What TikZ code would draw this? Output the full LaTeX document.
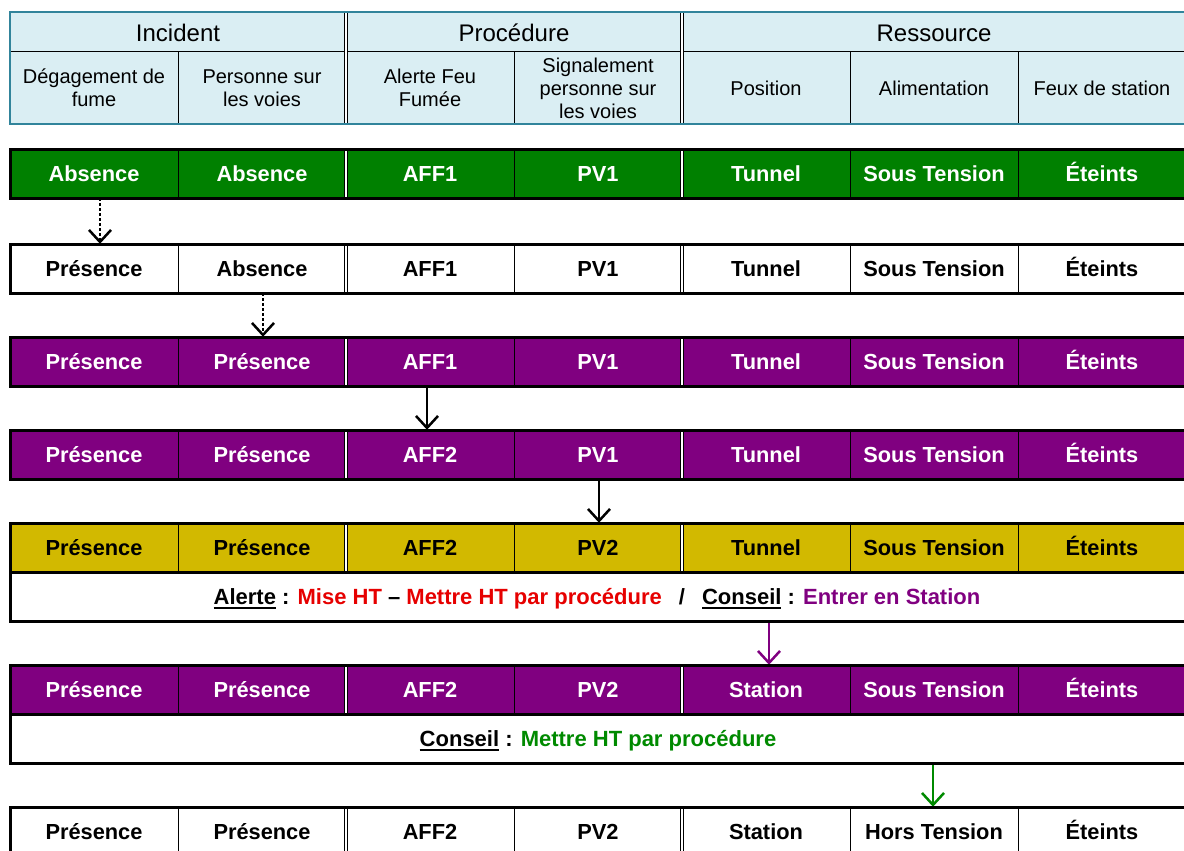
\documentclass[tikz,border=0pt]{standalone}
\usepackage{fontspec}
\setmainfont{Liberation Sans}
\usetikzlibrary{arrows.meta,calc}
\definecolor{hdrfill}{HTML}{DAEEF3}
\definecolor{hdrline}{HTML}{31849B}
\definecolor{rowgreen}{HTML}{008000}
\definecolor{rowpurple}{HTML}{800080}
\definecolor{rowyellow}{HTML}{D2B900}
\definecolor{txtred}{HTML}{E60000}
\definecolor{txtgreen}{HTML}{008A00}
\definecolor{txtpurple}{HTML}{800080}
\newsavebox\ulbox
\newcommand{\myul}[1]{\sbox\ulbox{#1}\rlap{\rule[-4.8pt]{\wd\ulbox}{2.2pt}}\usebox\ulbox}
\tikzset{
  cell/.style={minimum width=168pt, minimum height=49pt, inner sep=0pt, text height=15.7pt, text depth=0pt,
    font=\fontsize{21.8}{25}\selectfont\bfseries},
  msg/.style={minimum width=1176pt, minimum height=49pt, inner sep=0pt, text height=15.7pt, text depth=0pt,
    font=\fontsize{22}{25}\selectfont\bfseries},
  hcell/.style={inner sep=0pt, align=center, font=\fontsize{20}{23}\selectfont},
  gcell/.style={inner sep=0pt, text height=17.5pt, text depth=0pt, font=\fontsize{24}{27}\selectfont},
  rowframe/.style={line width=3pt},
  colline/.style={line width=1pt},
  dbl/.style={double, double distance=1.5pt, line width=0.9pt},
  flow/.style={line width=2.5pt, -{Straight Barb[length=12pt,width=22pt]}},
  dots/.style={dash pattern=on 2.5pt off 2.5pt},
}
% #1 prefix, #2 top, #3 fill, #4 text colour, #5 texts
\newcommand{\staterow}[5]{%
  \fill[#3] (10,#2) rectangle (1190,#2+49);
  \foreach \t [count=\i] in {#5}
    \node[cell,text=#4] (#1\i) at ({10+168*(\i-0.5)},#2+24.5) {\t};
  \foreach \x in {178,514,850,1018} \draw[colline] (\x,#2) -- (\x,#2+49);
  \foreach \x in {346,682} \draw[dbl] (\x,#2) -- (\x,#2+49);
}
\begin{document}
\begin{tikzpicture}[x=1pt,y=-1pt]
\useasboundingbox (0,0) rectangle (1184,851);
\clip (0,0) rectangle (1184,851);
% header
\fill[hdrfill] (10,12) rectangle (1190,124);
\draw[colline] (10,52) -- (1190,52);
\foreach \x in {178,514,850,1018} \draw[colline] (\x,52) -- (\x,124);
\foreach \x in {346,682} \draw[dbl] (\x,12) -- (\x,124);
\node[gcell] (g1) at (178,33) {Incident};
\node[gcell] (g2) at (514,33) {Procédure};
\node[gcell] (g3) at (934,33) {Ressource};
\node[hcell] (h1) at (94,88) {Dégagement de\\fume};
\node[hcell] (h2) at (262,88) {Personne sur\\les voies};
\node[hcell] (h3) at (430,88) {Alerte Feu\\Fumée};
\node[hcell] (h4) at (598,88) {Signalement\\personne sur\\les voies};
\node[hcell] (h5) at (766,88) {Position};
\node[hcell] (h6) at (934,88) {Alimentation};
\node[hcell] (h7) at (1102,88) {Feux de station};
\draw[hdrline,line width=2.8pt] (10,12) rectangle (1190,124);
% state rows
\staterow{a}{149}{rowgreen}{white}{Absence,Absence,AFF1,PV1,Tunnel,Sous Tension,Éteints}
\staterow{b}{244}{white}{black}{Présence,Absence,AFF1,PV1,Tunnel,Sous Tension,Éteints}
\staterow{c}{337}{rowpurple}{white}{Présence,Présence,AFF1,PV1,Tunnel,Sous Tension,Éteints}
\staterow{d}{430}{rowpurple}{white}{Présence,Présence,AFF2,PV1,Tunnel,Sous Tension,Éteints}
\staterow{e}{523}{rowyellow}{black}{Présence,Présence,AFF2,PV2,Tunnel,Sous Tension,Éteints}
\node[msg] (m5) at (597,596.5) {\myul{Alerte} : {\color{txtred}Mise HT} -- {\color{txtred}Mettre HT par procédure}\hspace{17pt}/\hspace{17pt}\myul{Conseil} : {\color{txtpurple}Entrer en Station}};
\staterow{f}{665}{rowpurple}{white}{Présence,Présence,AFF2,PV2,Station,Sous Tension,Éteints}
\node[msg] (m6) at (598,738.5) {\myul{Conseil} : {\color{txtgreen}Mettre HT par procédure}};
\staterow{g}{807}{white}{black}{Présence,Présence,AFF2,PV2,Station,Hors Tension,Éteints}
% transitions
\draw[flow,dots] ([xshift=6pt]a1.south) -- ([xshift=6pt]b1.north);
\draw[flow,dots] ([xshift=1pt]b2.south) -- ([xshift=1pt]c2.north);
\draw[flow] ([xshift=-3pt]c3.south) -- ([xshift=-3pt]d3.north);
\draw[flow] ([xshift=1pt]d4.south) -- ([xshift=1pt]e4.north);
\draw[flow,rowpurple] ($(m5.south -| f5.north)+(3,1.5)$) -- ([xshift=3pt]f5.north);
\draw[flow,txtgreen] ($(m6.south -| g6.north)+(-1,1.5)$) -- ([xshift=-1pt]g6.north);
% frames
\draw[rowframe] (10,149) rectangle (1190,198);
\draw[rowframe] (10,244) rectangle (1190,293);
\draw[rowframe] (10,337) rectangle (1190,386);
\draw[rowframe] (10,430) rectangle (1190,479);
\draw[rowframe] (10,523) rectangle (1190,621);
\draw[rowframe] (10,572) -- (1190,572);
\draw[rowframe] (10,665) rectangle (1190,763);
\draw[rowframe] (10,714) -- (1190,714);
\draw[rowframe] (10,807) rectangle (1190,860);
\end{tikzpicture}
\end{document}
